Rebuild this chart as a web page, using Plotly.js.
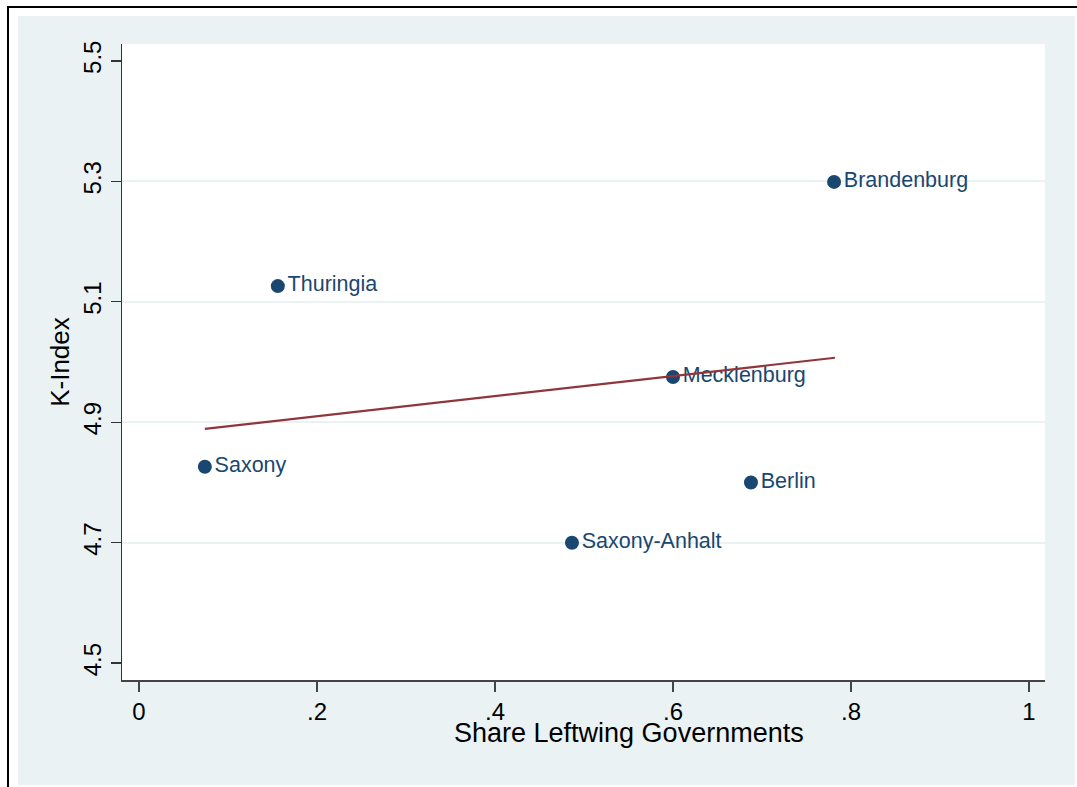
<!DOCTYPE html>
<html>
<head>
<meta charset="utf-8">
<script src="https://cdn.plot.ly/plotly-3.0.1.min.js"></script>
<style>
  html, body { margin: 0; padding: 0; background: #ffffff; width: 1077px; height: 787px; overflow: hidden; }
  #frame { position: absolute; left: 7px; top: 6px; width: 1070px; height: 781px;
           border-top: 2px solid #000; border-left: 2px solid #000; }
  #chart { position: absolute; left: 18px; top: 16px; width: 1057px; height: 769px; }
</style>
</head>
<body>
<div id="frame"></div>
<div id="chart"></div>
<script>
// Data
const states = ["Saxony", "Thuringia", "Saxony-Anhalt", "Mecklenburg", "Berlin", "Brandenburg"];
const shareLeft = [0.074, 0.156, 0.4865, 0.600, 0.6876, 0.781];
const kIndex = [4.826, 5.126, 4.700, 4.975, 4.800, 5.299];

// Fitted line end points
const fitX = [0.074, 0.782];
const fitY = [4.889, 5.007];

// Tick labels
const xTickVals = [0, 0.2, 0.4, 0.6, 0.8, 1];
const xTickText = ["0", ".2", ".4", ".6", ".8", "1"];
const yTickVals = [4.5, 4.7, 4.9, 5.1, 5.3, 5.5];
const yTickText = ["4.5", "4.7", "4.9", "5.1", "5.3", "5.5"];
const yGridVals = [4.7, 4.9, 5.1, 5.3];

const xTitle = "Share Leftwing Governments";
const yTitle = "K-Index";

const FONT = "Liberation Sans, Arial, Helvetica, sans-serif";
const NAVY = "#1a476f";

const traces = [
  {
    type: "scatter",
    mode: "markers+text",
    x: shareLeft,
    y: kIndex,
    text: states,
    textposition: "middle right",
    textfont: { family: FONT, size: 21.5, color: NAVY },
    marker: { color: NAVY, size: 14 },
    cliponaxis: false,
    hoverinfo: "x+y+text",
    showlegend: false
  },
  {
    type: "scatter",
    mode: "lines",
    x: fitX,
    y: fitY,
    line: { color: "#90353b", width: 2.2 },
    showlegend: false,
    hoverinfo: "skip"
  },
  {
    // invisible helper to activate the grid-only overlay axis
    type: "scatter",
    mode: "markers",
    x: [shareLeft[0]],
    y: [kIndex[0]],
    yaxis: "y2",
    marker: { opacity: 0 },
    showlegend: false,
    hoverinfo: "skip"
  }
];

const layout = {
  width: 1057,
  height: 769,
  paper_bgcolor: "#eaf2f3",
  plot_bgcolor: "#ffffff",
  margin: { l: 104, r: 30, t: 28, b: 105 },
  font: { family: FONT, color: "#000" },
  showlegend: false,
  xaxis: {
    range: [-0.0191, 1.018],
    tickmode: "array",
    tickvals: xTickVals,
    ticktext: xTickText,
    ticks: "outside",
    ticklen: 10,
    tickwidth: 1.3,
    tickcolor: "#444",
    tickfont: { family: FONT, size: 24, color: "#000" },
    showline: true,
    linecolor: "#444",
    linewidth: 1.5,
    showgrid: false,
    zeroline: false,
    automargin: false
  },
  yaxis: {
    range: [4.472, 5.528],
    tickmode: "array",
    tickvals: yTickVals,
    ticktext: yTickText,
    tickangle: -90,
    ticks: "outside",
    ticklen: 10,
    tickwidth: 1.3,
    tickcolor: "#333",
    tickfont: { family: FONT, size: 24, color: "#000" },
    showline: true,
    linecolor: "#333",
    linewidth: 1.5,
    showgrid: false,
    zeroline: false,
    automargin: false,
    title: { text: yTitle, font: { family: FONT, size: 26, color: "#000" }, standoff: 2 }
  },
  yaxis2: {
    overlaying: "y",
    matches: "y",
    side: "left",
    tickmode: "array",
    tickvals: yGridVals,
    showticklabels: false,
    ticks: "",
    showgrid: true,
    gridcolor: "#eaf2f3",
    gridwidth: 1.8,
    showline: false,
    zeroline: false,
    layer: "below traces"
  },
  annotations: [
    {
      text: xTitle,
      xref: "paper", yref: "paper",
      x: 0.549, y: -0.057,
      xanchor: "center", yanchor: "top",
      showarrow: false,
      font: { family: FONT, size: 27, color: "#000" }
    }
  ]
};

Plotly.newPlot("chart", traces, layout, { displayModeBar: false, staticPlot: true });
</script>
</body>
</html>
